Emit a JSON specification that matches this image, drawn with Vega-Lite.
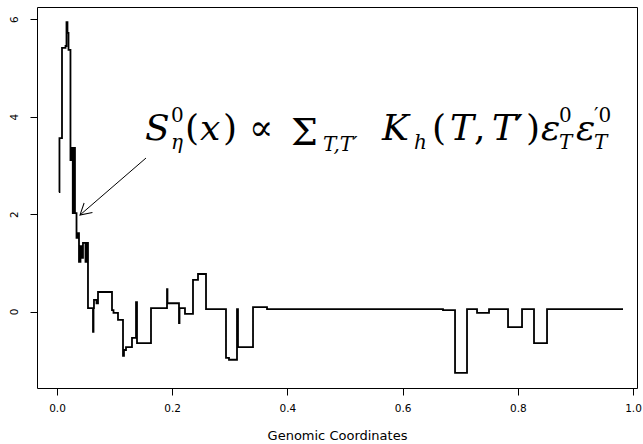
{
  "$schema": "https://vega.github.io/schema/vega-lite/v6.json",
  "width": 600,
  "height": 381,
  "autosize": {"type": "none"},
  "padding": {"left": 37, "top": 7, "right": 6, "bottom": 56},
  "background": "white",
  "datasets": {
    "step": [
      {"x": 0.0035, "y": 2.45}, {"x": 0.0043, "y": 3.56}, {"x": 0.0087, "y": 5.41}, {"x": 0.0148, "y": 5.45},
      {"x": 0.0165, "y": 5.94}, {"x": 0.0182, "y": 5.72}, {"x": 0.0200, "y": 5.37}, {"x": 0.0234, "y": 3.11},
      {"x": 0.0260, "y": 3.36}, {"x": 0.0274, "y": 2.02}, {"x": 0.0295, "y": 3.36}, {"x": 0.0312, "y": 2.02},
      {"x": 0.0339, "y": 1.51}, {"x": 0.0365, "y": 1.61}, {"x": 0.0382, "y": 1.02}, {"x": 0.0408, "y": 1.34},
      {"x": 0.0425, "y": 1.10}, {"x": 0.0451, "y": 1.41}, {"x": 0.0495, "y": 1.02}, {"x": 0.0512, "y": 1.41},
      {"x": 0.0538, "y": 0.07}, {"x": 0.0625, "y": -0.42}, {"x": 0.0634, "y": 0.07}, {"x": 0.0642, "y": 0.24},
      {"x": 0.0686, "y": 0.17}, {"x": 0.0712, "y": 0.40}, {"x": 0.0955, "y": 0.03}, {"x": 0.0981, "y": -0.03},
      {"x": 0.1059, "y": -0.17}, {"x": 0.1146, "y": -0.91}, {"x": 0.1163, "y": -0.79}, {"x": 0.1198, "y": -0.73},
      {"x": 0.1302, "y": -0.54}, {"x": 0.1372, "y": 0.19}, {"x": 0.1389, "y": -0.65}, {"x": 0.1632, "y": 0.07},
      {"x": 0.1910, "y": 0.46}, {"x": 0.1918, "y": 0.17}, {"x": 0.2118, "y": -0.24}, {"x": 0.2127, "y": 0.07},
      {"x": 0.2222, "y": -0.05}, {"x": 0.2361, "y": 0.65}, {"x": 0.2448, "y": 0.77}, {"x": 0.2587, "y": 0.05},
      {"x": 0.2934, "y": -0.95}, {"x": 0.2986, "y": -0.99}, {"x": 0.3125, "y": 0.05}, {"x": 0.3142, "y": -0.73},
      {"x": 0.3403, "y": 0.09}, {"x": 0.3646, "y": 0.05}, {"x": 0.6701, "y": 0.03}, {"x": 0.6910, "y": -1.26},
      {"x": 0.7118, "y": 0.05}, {"x": 0.7292, "y": -0.03}, {"x": 0.7500, "y": 0.05}, {"x": 0.7830, "y": -0.32},
      {"x": 0.8073, "y": 0.05}, {"x": 0.8281, "y": -0.65}, {"x": 0.8507, "y": 0.05}, {"x": 0.9826, "y": 0.05}
    ],
    "arrow": [{"x": 0.1545, "y": 3.15}, {"x": 0.0399, "y": 1.98}],
    "head": [{"x": 0.0399, "y": 1.98}],
    "formula": [
      {"t": "S", "x": 0.1528, "y": 3.52, "k": "mi"},
      {"t": "x", "x": 0.2483, "y": 3.52, "k": "mi"},
      {"t": "K", "x": 0.5642, "y": 3.52, "k": "mi"},
      {"t": "T", "x": 0.6823, "y": 3.52, "k": "mi"},
      {"t": "T", "x": 0.7552, "y": 3.52, "k": "mi"},
      {"t": "ε", "x": 0.8403, "y": 3.52, "k": "mi"},
      {"t": "ε", "x": 0.9010, "y": 3.52, "k": "mi"},
      {"t": "(", "x": 0.2222, "y": 3.52, "k": "mo"},
      {"t": ")", "x": 0.2882, "y": 3.52, "k": "mo"},
      {"t": "∝", "x": 0.3333, "y": 3.52, "k": "mo"},
      {"t": "(", "x": 0.6510, "y": 3.52, "k": "mo"},
      {"t": ",", "x": 0.7240, "y": 3.52, "k": "mo"},
      {"t": "′", "x": 0.7951, "y": 3.52, "k": "mo"},
      {"t": ")", "x": 0.8142, "y": 3.52, "k": "mo"},
      {"t": "Σ", "x": 0.4063, "y": 3.418, "k": "sum"},
      {"t": "η", "x": 0.1979, "y": 3.335, "k": "si"},
      {"t": "T,T′", "x": 0.4618, "y": 3.30, "k": "si"},
      {"t": "h", "x": 0.6198, "y": 3.335, "k": "si"},
      {"t": "T", "x": 0.8715, "y": 3.335, "k": "si"},
      {"t": "T", "x": 0.9323, "y": 3.335, "k": "si"},
      {"t": "0", "x": 0.1979, "y": 3.89, "k": "so"},
      {"t": "0", "x": 0.8715, "y": 3.89, "k": "so"},
      {"t": "′0", "x": 0.9323, "y": 3.89, "k": "so"}
    ]
  },
  "config": {
    "view": {"stroke": "black", "strokeWidth": 1},
    "axis": {
      "grid": false, "domain": false, "tickColor": "black", "tickSize": 7, "tickWidth": 1,
      "labelColor": "black", "labelFont": "DejaVu Sans", "labelFontSize": 10.5,
      "titleFont": "DejaVu Sans", "titleFontWeight": "normal", "titleColor": "black", "titleFontSize": 13
    }
  },
  "layer": [
    {
      "mark": {"type": "rule", "color": "#bebebe", "strokeWidth": 1},
      "encoding": {"y": {"datum": 0, "type": "quantitative"}}
    },
    {
      "data": {"name": "step"},
      "mark": {"type": "line", "interpolate": "step-after", "color": "black", "strokeWidth": 1.8},
      "encoding": {
        "x": {"field": "x", "type": "quantitative", "title": "Genomic Coordinates",
              "scale": {"domain": [-0.0347, 1.0069], "nice": false, "zero": false},
              "axis": {"values": [0, 0.2, 0.4, 0.6, 0.8, 1.0], "format": ".1f", "labelPadding": 8, "titlePadding": 16}},
        "y": {"field": "y", "type": "quantitative", "title": null,
              "scale": {"domain": [-1.57, 6.25], "nice": false, "zero": false},
              "axis": {"values": [0, 2, 4, 6], "labelAngle": -90, "labelAlign": "center", "labelBaseline": "bottom", "labelPadding": 11}}
      }
    },
    {
      "data": {"name": "arrow"},
      "mark": {"type": "line", "color": "black", "strokeWidth": 1},
      "encoding": {
        "x": {"field": "x", "type": "quantitative", "title": "Genomic Coordinates"},
        "y": {"field": "y", "type": "quantitative", "title": null}
      }
    },
    {
      "data": {"name": "head"},
      "mark": {"type": "point", "shape": "M-1,-0.577L0,0L-1,0.577", "filled": false, "stroke": "black", "strokeWidth": 1, "opacity": 1, "size": 484, "angle": 139},
      "encoding": {
        "x": {"field": "x", "type": "quantitative", "title": "Genomic Coordinates"},
        "y": {"field": "y", "type": "quantitative", "title": null}
      }
    },
    {
      "data": {"name": "formula"},
      "transform": [{"filter": "datum.k === 'mi'"}],
      "mark": {"type": "text", "font": "DejaVu Serif", "fontStyle": "italic", "fontSize": 36, "align": "left", "baseline": "alphabetic", "color": "black"},
      "encoding": {
        "x": {"field": "x", "type": "quantitative", "title": "Genomic Coordinates"},
        "y": {"field": "y", "type": "quantitative", "title": null},
        "text": {"field": "t"}
      }
    },
    {
      "data": {"name": "formula"},
      "transform": [{"filter": "datum.k === 'mo'"}],
      "mark": {"type": "text", "font": "DejaVu Serif", "fontSize": 36, "align": "left", "baseline": "alphabetic", "color": "black"},
      "encoding": {
        "x": {"field": "x", "type": "quantitative", "title": "Genomic Coordinates"},
        "y": {"field": "y", "type": "quantitative", "title": null},
        "text": {"field": "t"}
      }
    },
    {
      "data": {"name": "formula"},
      "transform": [{"filter": "datum.k === 'sum'"}],
      "mark": {"type": "text", "font": "DejaVu Serif", "fontSize": 38, "align": "left", "baseline": "alphabetic", "color": "black"},
      "encoding": {
        "x": {"field": "x", "type": "quantitative", "title": "Genomic Coordinates"},
        "y": {"field": "y", "type": "quantitative", "title": null},
        "text": {"field": "t"}
      }
    },
    {
      "data": {"name": "formula"},
      "transform": [{"filter": "datum.k === 'si'"}],
      "mark": {"type": "text", "font": "DejaVu Serif", "fontStyle": "italic", "fontSize": 20, "align": "left", "baseline": "alphabetic", "color": "black"},
      "encoding": {
        "x": {"field": "x", "type": "quantitative", "title": "Genomic Coordinates"},
        "y": {"field": "y", "type": "quantitative", "title": null},
        "text": {"field": "t"}
      }
    },
    {
      "data": {"name": "formula"},
      "transform": [{"filter": "datum.k === 'so'"}],
      "mark": {"type": "text", "font": "DejaVu Serif", "fontSize": 20, "align": "left", "baseline": "alphabetic", "color": "black"},
      "encoding": {
        "x": {"field": "x", "type": "quantitative", "title": "Genomic Coordinates"},
        "y": {"field": "y", "type": "quantitative", "title": null},
        "text": {"field": "t"}
      }
    }
  ]
}
